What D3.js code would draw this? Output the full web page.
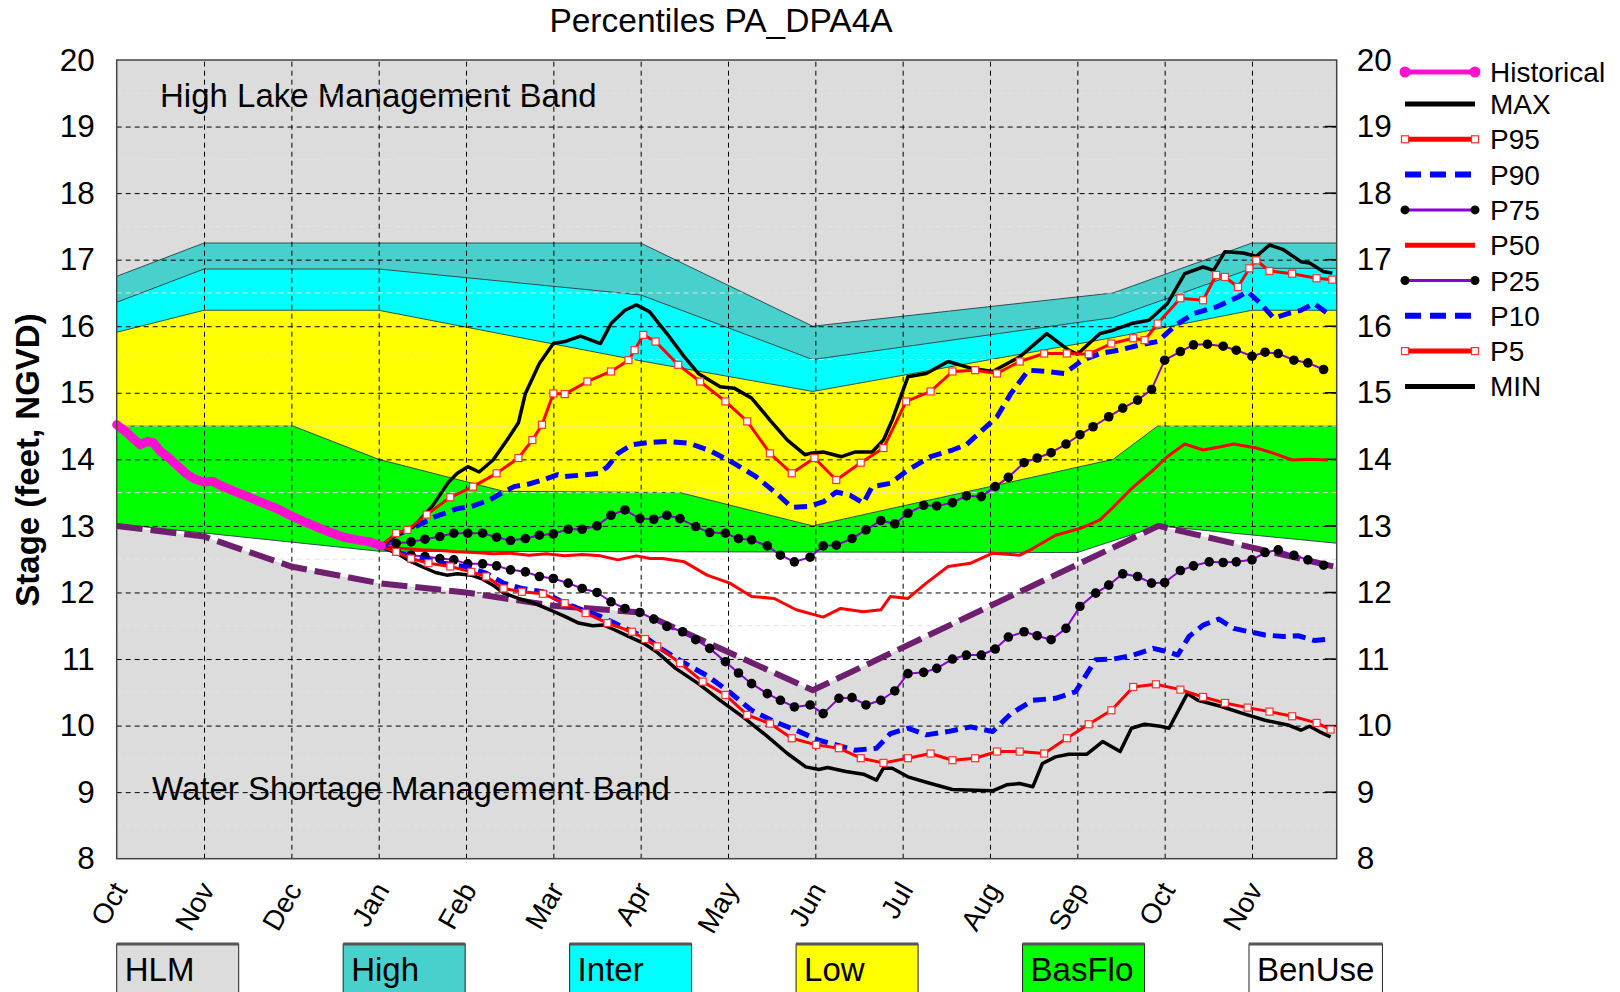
<!DOCTYPE html>
<html>
<head>
<meta charset="utf-8">
<script src="https://cdn.jsdelivr.net/npm/d3@7"></script>
<style>
  body { margin: 0; background: #fff; }
  svg { display: block; font-family: "Liberation Sans", Arial, sans-serif; }
</style>
</head>
<body>
<svg id="chart" width="1620" height="992"></svg>
<script>
// months on the x axis, month index 0 = Oct
var monthNames = ['Oct', 'Nov', 'Dec', 'Jan', 'Feb', 'Mar', 'Apr', 'May', 'Jun', 'Jul', 'Aug', 'Sep', 'Oct', 'Nov'];
var stageTicks = [8, 9, 10, 11, 12, 13, 14, 15, 16, 17, 18, 19, 20];

// management band boundaries [month, stage]
var highTop = [[0, 16.75], [1, 17.25], [6, 17.25], [7.97, 16.0], [11.41, 16.5], [13, 17.25], [13.97, 17.25]];
var interTop = [[0, 16.36], [1, 16.86], [3, 16.86], [6, 16.47], [7.97, 15.5], [11.41, 16.13], [13, 16.87], [13.97, 16.87]];
var lowTop = [[0, 15.91], [1, 16.24], [3, 16.24], [6, 15.48], [7.97, 15.02], [11.41, 15.83], [13, 16.24], [13.97, 16.24]];
var basFloTop = [[0, 14.5], [2.02, 14.5], [3, 14.0], [4.43, 13.52], [6.45, 13.5], [7.97, 13.0], [11.41, 14.0], [11.92, 14.5], [13.97, 14.5]];
var benUseTop = [[0, 13.03], [3, 12.62], [11.0, 12.6], [11.93, 13.0], [13.97, 12.74]];
var shortageTop = [[0, 13.0], [1, 12.84], [2, 12.39], [3, 12.14], [4, 12.0], [5, 11.8], [6, 11.7], [7.97, 10.53], [11.93, 13.0], [13.97, 12.38]];

// historical stage
var historical = [[0, 14.52], [0.1, 14.42], [0.2, 14.3], [0.27, 14.22], [0.35, 14.27], [0.42, 14.25], [0.5, 14.12],
  [0.6, 14.02], [0.7, 13.9], [0.8, 13.78], [0.9, 13.7], [1.0, 13.66], [1.1, 13.67], [1.2, 13.6], [1.35, 13.52],
  [1.5, 13.44], [1.7, 13.33], [1.85, 13.25], [2.0, 13.15], [2.15, 13.06], [2.3, 12.98], [2.45, 12.9], [2.6, 12.83],
  [2.75, 12.79], [2.9, 12.76], [3.03, 12.7]];

// percentile traces
var pMax = [[3.03, 12.69], [3.2, 12.86], [3.4, 12.99], [3.61, 13.29], [3.8, 13.66], [3.9, 13.79], [4.02, 13.89], [4.15, 13.81],
  [4.31, 13.99], [4.47, 14.29], [4.6, 14.55], [4.68, 14.99], [4.84, 15.44], [5.0, 15.74], [5.13, 15.77], [5.31, 15.85],
  [5.54, 15.74], [5.66, 16.04], [5.82, 16.24], [5.95, 16.32], [6.1, 16.22], [6.3, 15.89], [6.5, 15.54], [6.66, 15.29],
  [6.91, 15.09], [7.07, 15.07], [7.27, 14.92], [7.48, 14.59], [7.68, 14.29], [7.88, 14.07], [7.94, 14.09], [8.09, 14.11],
  [8.3, 14.04], [8.45, 14.11], [8.65, 14.11], [8.78, 14.29], [8.88, 14.59], [9.06, 15.24], [9.27, 15.29], [9.52, 15.47],
  [9.78, 15.37], [10.03, 15.32], [10.34, 15.54], [10.65, 15.89], [10.9, 15.64], [11.0, 15.58], [11.26, 15.89],
  [11.41, 15.94], [11.62, 16.04], [11.82, 16.09], [12.03, 16.34], [12.23, 16.79], [12.44, 16.89], [12.56, 16.84],
  [12.69, 17.12], [12.9, 17.1], [13.05, 17.05], [13.2, 17.22], [13.36, 17.15], [13.56, 16.97], [13.66, 16.95],
  [13.82, 16.82], [13.92, 16.8]];
var p95 = [[3.03, 12.69], [3.2, 12.89], [3.33, 12.94], [3.55, 13.17], [3.82, 13.43], [4.08, 13.59], [4.35, 13.79], [4.6, 14.02],
  [4.76, 14.29], [4.87, 14.52], [5.0, 14.99], [5.13, 14.98], [5.39, 15.17], [5.66, 15.32], [5.86, 15.49], [5.93, 15.64],
  [6.03, 15.87], [6.17, 15.77], [6.43, 15.42], [6.68, 15.17], [6.97, 14.87], [7.22, 14.57], [7.48, 14.09], [7.73, 13.79],
  [7.99, 14.02], [8.24, 13.69], [8.52, 13.95], [8.78, 14.17], [9.04, 14.87], [9.32, 15.02], [9.57, 15.32], [9.83, 15.34],
  [10.08, 15.29], [10.34, 15.47], [10.62, 15.59], [10.88, 15.59], [11.13, 15.58], [11.39, 15.74], [11.64, 15.82],
  [11.77, 15.79], [11.92, 16.04], [12.18, 16.42], [12.44, 16.39], [12.59, 16.77], [12.69, 16.74], [12.84, 16.59],
  [12.97, 16.87], [13.05, 16.99], [13.2, 16.83], [13.46, 16.79], [13.74, 16.72], [13.92, 16.7]];
var p90 = [[3.03, 12.69], [3.2, 12.86], [3.41, 12.98], [3.65, 13.14], [3.9, 13.26], [4.06, 13.29], [4.27, 13.39], [4.43, 13.51],
  [4.55, 13.59], [4.72, 13.63], [4.88, 13.69], [5.05, 13.77], [5.13, 13.74], [5.37, 13.77], [5.52, 13.79], [5.62, 13.89],
  [5.74, 14.09], [5.9, 14.22], [6.07, 14.25], [6.3, 14.27], [6.56, 14.24], [6.81, 14.12], [7.07, 13.94], [7.32, 13.74],
  [7.58, 13.46], [7.73, 13.28], [7.91, 13.29], [8.09, 13.36], [8.24, 13.51], [8.4, 13.46], [8.55, 13.34], [8.65, 13.59],
  [8.86, 13.64], [9.06, 13.84], [9.32, 14.04], [9.57, 14.14], [9.73, 14.22], [9.88, 14.4], [10.08, 14.64], [10.24, 14.99],
  [10.44, 15.34], [10.65, 15.32], [10.85, 15.29], [11.06, 15.49], [11.26, 15.59], [11.47, 15.64], [11.72, 15.72],
  [11.92, 15.77], [12.13, 16.02], [12.33, 16.19], [12.59, 16.29], [12.84, 16.44], [12.95, 16.52], [13.1, 16.34],
  [13.25, 16.12], [13.41, 16.19], [13.56, 16.24], [13.71, 16.34], [13.87, 16.19]];
var p75 = [[3.03, 12.69], [3.2, 12.74], [3.37, 12.76], [3.53, 12.8], [3.7, 12.84], [3.86, 12.89], [4.02, 12.89], [4.19, 12.89],
  [4.35, 12.83], [4.51, 12.78], [4.68, 12.81], [4.84, 12.86], [5.0, 12.88], [5.17, 12.95], [5.33, 12.95], [5.5, 13.0],
  [5.66, 13.16], [5.82, 13.24], [5.99, 13.11], [6.15, 13.1], [6.3, 13.16], [6.45, 13.11], [6.63, 12.99], [6.79, 12.9],
  [6.97, 12.89], [7.12, 12.81], [7.27, 12.79], [7.45, 12.7], [7.6, 12.56], [7.76, 12.46], [7.94, 12.53], [8.09, 12.7],
  [8.24, 12.71], [8.42, 12.81], [8.58, 12.94], [8.75, 13.08], [8.91, 13.03], [9.06, 13.19], [9.24, 13.31], [9.39, 13.3],
  [9.57, 13.35], [9.73, 13.45], [9.9, 13.44], [10.06, 13.59], [10.21, 13.73], [10.39, 13.95], [10.54, 14.02], [10.7, 14.1],
  [10.87, 14.23], [11.03, 14.37], [11.18, 14.49], [11.36, 14.64], [11.52, 14.77], [11.69, 14.89], [11.85, 15.05],
  [12.0, 15.49], [12.18, 15.62], [12.33, 15.72], [12.49, 15.73], [12.67, 15.7], [12.82, 15.64], [13.0, 15.55],
  [13.15, 15.61], [13.3, 15.59], [13.48, 15.49], [13.64, 15.45], [13.82, 15.35]];
var p50 = [[3.03, 12.69], [3.2, 12.67], [3.49, 12.64], [3.7, 12.63], [3.9, 12.61], [4.1, 12.6], [4.31, 12.58], [4.51, 12.59],
  [4.72, 12.56], [4.92, 12.58], [5.13, 12.55], [5.33, 12.57], [5.54, 12.55], [5.74, 12.49], [5.95, 12.55], [6.11, 12.51],
  [6.25, 12.51], [6.5, 12.46], [6.76, 12.26], [7.02, 12.14], [7.27, 11.94], [7.53, 11.91], [7.78, 11.74], [8.09, 11.63],
  [8.29, 11.76], [8.55, 11.71], [8.75, 11.74], [8.86, 11.94], [9.06, 11.91], [9.27, 12.14], [9.52, 12.39], [9.78, 12.44],
  [10.03, 12.59], [10.34, 12.56], [10.49, 12.66], [10.75, 12.86], [11.03, 12.96], [11.26, 13.09], [11.41, 13.28],
  [11.62, 13.56], [11.87, 13.84], [12.03, 14.04], [12.23, 14.23], [12.44, 14.14], [12.64, 14.19], [12.79, 14.23],
  [13.05, 14.17], [13.25, 14.09], [13.46, 13.99], [13.66, 14.0], [13.87, 13.99]];
var p25 = [[3.03, 12.69], [3.2, 12.62], [3.37, 12.56], [3.53, 12.54], [3.7, 12.51], [3.86, 12.49], [4.02, 12.43], [4.19, 12.43],
  [4.35, 12.4], [4.51, 12.34], [4.68, 12.31], [4.84, 12.24], [5.0, 12.21], [5.17, 12.14], [5.33, 12.06], [5.5, 12.0],
  [5.66, 11.86], [5.82, 11.76], [5.99, 11.7], [6.15, 11.6], [6.3, 11.49], [6.48, 11.41], [6.63, 11.29], [6.79, 11.16],
  [6.97, 10.96], [7.12, 10.79], [7.27, 10.63], [7.45, 10.48], [7.6, 10.38], [7.76, 10.28], [7.94, 10.31], [8.09, 10.18],
  [8.27, 10.41], [8.42, 10.42], [8.58, 10.31], [8.75, 10.38], [8.91, 10.52], [9.06, 10.78], [9.24, 10.8], [9.39, 10.86],
  [9.57, 11.0], [9.73, 11.06], [9.9, 11.06], [10.06, 11.15], [10.21, 11.33], [10.39, 11.41], [10.54, 11.35], [10.7, 11.29],
  [10.87, 11.46], [11.03, 11.79], [11.21, 11.99], [11.36, 12.11], [11.52, 12.28], [11.69, 12.24], [11.85, 12.14],
  [12.0, 12.15], [12.18, 12.33], [12.33, 12.4], [12.51, 12.46], [12.67, 12.45], [12.82, 12.46], [13.0, 12.49],
  [13.15, 12.6], [13.3, 12.64], [13.48, 12.56], [13.64, 12.49], [13.82, 12.41]];
var p10 = [[3.03, 12.69], [3.24, 12.59], [3.49, 12.51], [3.74, 12.44], [3.98, 12.39], [4.23, 12.29], [4.43, 12.14], [4.64, 12.06],
  [4.88, 12.01], [5.13, 11.84], [5.33, 11.74], [5.54, 11.64], [5.7, 11.54], [5.86, 11.44], [6.07, 11.31], [6.25, 11.14],
  [6.5, 10.94], [6.76, 10.75], [7.02, 10.5], [7.27, 10.23], [7.53, 10.06], [7.78, 9.93], [8.04, 9.78], [8.24, 9.71],
  [8.45, 9.63], [8.7, 9.66], [8.86, 9.88], [9.06, 9.96], [9.27, 9.86], [9.52, 9.91], [9.78, 9.98], [10.03, 9.91],
  [10.24, 10.18], [10.49, 10.38], [10.75, 10.41], [10.98, 10.51], [11.11, 10.78], [11.21, 10.99], [11.41, 11.0],
  [11.62, 11.05], [11.87, 11.16], [12.03, 11.11], [12.15, 11.06], [12.28, 11.34], [12.44, 11.51], [12.62, 11.6],
  [12.79, 11.46], [12.97, 11.41], [13.15, 11.36], [13.36, 11.34], [13.53, 11.35], [13.71, 11.28], [13.89, 11.3]];
var p5 = [[3.03, 12.69], [3.2, 12.61], [3.37, 12.51], [3.57, 12.44], [3.82, 12.39], [4.06, 12.31], [4.23, 12.24], [4.43, 12.06],
  [4.64, 12.01], [4.88, 11.98], [5.13, 11.84], [5.37, 11.69], [5.62, 11.54], [5.9, 11.41], [6.05, 11.3], [6.19, 11.19],
  [6.45, 10.94], [6.71, 10.66], [6.97, 10.46], [7.22, 10.16], [7.48, 10.03], [7.73, 9.81], [8.01, 9.71], [8.27, 9.66],
  [8.52, 9.51], [8.78, 9.44], [9.06, 9.51], [9.32, 9.58], [9.57, 9.48], [9.83, 9.51], [10.08, 9.61], [10.34, 9.61],
  [10.62, 9.58], [10.88, 9.81], [11.13, 10.02], [11.39, 10.23], [11.64, 10.58], [11.9, 10.62], [12.18, 10.54],
  [12.44, 10.43], [12.69, 10.34], [12.95, 10.27], [13.2, 10.21], [13.46, 10.14], [13.74, 10.04], [13.9, 9.94]];
var pMin = [[3.03, 12.69], [3.2, 12.6], [3.33, 12.49], [3.49, 12.39], [3.65, 12.3], [3.78, 12.26], [3.9, 12.28], [4.06, 12.26],
  [4.19, 12.2], [4.31, 12.11], [4.43, 11.99], [4.6, 11.91], [4.76, 11.85], [4.96, 11.74], [5.13, 11.64], [5.29, 11.54],
  [5.45, 11.5], [5.58, 11.51], [5.7, 11.44], [5.86, 11.34], [6.03, 11.24], [6.19, 11.1], [6.4, 10.86], [6.66, 10.63],
  [6.91, 10.38], [7.17, 10.13], [7.43, 9.86], [7.68, 9.58], [7.89, 9.38], [8.04, 9.34], [8.14, 9.37], [8.35, 9.31],
  [8.55, 9.27], [8.7, 9.18], [8.78, 9.36], [8.88, 9.36], [9.06, 9.23], [9.32, 9.13], [9.57, 9.04], [9.83, 9.03],
  [10.03, 9.02], [10.19, 9.11], [10.34, 9.13], [10.49, 9.08], [10.6, 9.43], [10.75, 9.53], [10.9, 9.57], [11.11, 9.57],
  [11.29, 9.76], [11.49, 9.61], [11.62, 9.96], [11.77, 10.02], [11.95, 9.99], [12.05, 9.96], [12.26, 10.48],
  [12.38, 10.38], [12.64, 10.29], [12.9, 10.18], [13.15, 10.08], [13.41, 10.01], [13.56, 9.93], [13.66, 9.99],
  [13.77, 9.91], [13.9, 9.83]];

var legendNames = ['Historical', 'MAX', 'P95', 'P90', 'P75', 'P50', 'P25', 'P10', 'P5', 'MIN'];
var bandNames = ['HLM', 'High', 'Inter', 'Low', 'BasFlo', 'BenUse'];

var plotLeft = 116.7, plotRight = 1336.7, plotTop = 60, plotBottom = 858.7;

var x = d3.scaleLinear().domain([0, 13.97]).range([plotLeft, plotRight]);
var y = d3.scaleLinear().domain([8, 20]).range([plotBottom, plotTop]);

var svg = d3.select('#chart');

var colors = {
  hlm: '#dcdcdc', high: '#48d1cc', inter: '#00ffff', low: '#ffff00', basflo: '#00ff00', benuse: '#ffffff'
};

// title
svg.append('text')
  .attr('x', 721).attr('y', 32)
  .attr('text-anchor', 'middle')
  .style('font-size', '33.5px')
  .text('Percentiles PA_DPA4A');

var plot = svg.append('g');

plot.append('rect')
  .attr('x', plotLeft).attr('y', plotTop)
  .attr('width', plotRight - plotLeft).attr('height', plotBottom - plotTop)
  .attr('fill', colors.hlm);

var area = d3.area()
  .x(function (d) { return x(d[0]); })
  .y0(y(8))
  .y1(function (d) { return y(d[1]); });

var edge = d3.line()
  .x(function (d) { return x(d[0]); })
  .y(function (d) { return y(d[1]); });

var bands = [
  { data: highTop, fill: colors.high },
  { data: interTop, fill: colors.inter },
  { data: lowTop, fill: colors.low },
  { data: basFloTop, fill: colors.basflo },
  { data: benUseTop, fill: colors.benuse },
  { data: shortageTop, fill: colors.hlm }
];

bands.forEach(function (b) {
  plot.append('path').attr('d', area(b.data)).attr('fill', b.fill);
});
bands.slice(0, 5).forEach(function (b) {
  plot.append('path').attr('d', edge(b.data))
    .attr('fill', 'none').attr('stroke', '#2f4f4f').attr('stroke-width', 1);
});

// band captions
plot.append('text').attr('x', 160).attr('y', 107)
  .style('font-size', '33px').text('High Lake Management Band');
plot.append('text').attr('x', 152).attr('y', 800)
  .style('font-size', '33px').text('Water Shortage Management Band');

// minor grid (half feet)
var minor = d3.range(8.5, 20, 1);
plot.selectAll('.minor').data(minor).enter().append('line')
  .attr('x1', plotLeft).attr('x2', plotRight)
  .attr('y1', function (d) { return y(d); }).attr('y2', function (d) { return y(d); })
  .attr('stroke', '#e2e2e2').attr('stroke-width', 1).attr('stroke-dasharray', '5,4');

// major grid
var yGrid = d3.axisLeft(y).tickValues(stageTicks.slice(1, -1)).tickSize(-(plotRight - plotLeft)).tickFormat('');
plot.append('g').attr('transform', 'translate(' + plotLeft + ',0)').call(yGrid)
  .call(function (s) { s.select('.domain').remove(); })
  .selectAll('line').attr('stroke', '#000').attr('stroke-dasharray', '5,4');

var xGrid = d3.axisBottom(x).tickValues(d3.range(1, monthNames.length)).tickSize(-(plotBottom - plotTop)).tickFormat('');
plot.append('g').attr('transform', 'translate(0,' + plotBottom + ')').call(xGrid)
  .call(function (s) { s.select('.domain').remove(); })
  .selectAll('line').attr('stroke', '#000').attr('stroke-dasharray', '5,4');

// small inward ticks on the right edge
plot.selectAll('.rtick').data(stageTicks.slice(1, -1)).enter().append('line')
  .attr('x1', plotRight - 12).attr('x2', plotRight)
  .attr('y1', function (d) { return y(d); }).attr('y2', function (d) { return y(d); })
  .attr('stroke', '#000').attr('stroke-width', 1.5);

// water shortage line
plot.append('path').attr('d', edge(shortageTop))
  .attr('fill', 'none').attr('stroke', '#6e1f6e').attr('stroke-width', 6)
  .attr('stroke-dasharray', '26,8');

var line = d3.line()
  .x(function (d) { return x(d[0]); })
  .y(function (d) { return y(d[1]); });

var series = [
  { data: p50, stroke: '#ff0000', width: 3 },
  { data: p25, stroke: '#8a00d0', width: 2, dots: true },
  { data: p75, stroke: '#8a00d0', width: 2, dots: true },
  { data: p10, stroke: '#0000ff', width: 5, dash: '13,7' },
  { data: p90, stroke: '#0000ff', width: 5, dash: '13,7' },
  { data: pMin, stroke: '#000000', width: 3.5 },
  { data: pMax, stroke: '#000000', width: 3.5 },
  { data: p5, stroke: '#ff0000', width: 3, squares: true },
  { data: p95, stroke: '#ff0000', width: 3, squares: true }
];

series.forEach(function (s) {
  plot.append('path').attr('d', line(s.data))
    .attr('fill', 'none').attr('stroke', s.stroke).attr('stroke-width', s.width)
    .attr('stroke-linejoin', 'round')
    .attr('stroke-dasharray', s.dash || null);
  if (s.dots) {
    plot.append('g').selectAll('circle').data(s.data.slice(1)).enter().append('circle')
      .attr('cx', function (d) { return x(d[0]); })
      .attr('cy', function (d) { return y(d[1]); })
      .attr('r', 4.8).attr('fill', '#000');
  }
  if (s.squares) {
    plot.append('g').selectAll('rect').data(s.data.slice(1)).enter().append('rect')
      .attr('x', function (d) { return x(d[0]) - 3.5; })
      .attr('y', function (d) { return y(d[1]) - 3.5; })
      .attr('width', 7).attr('height', 7)
      .attr('fill', '#fff').attr('stroke', '#ff3030').attr('stroke-width', 1.2);
  }
});

plot.append('path').attr('d', line(historical))
  .attr('fill', 'none').attr('stroke', '#ff10d0').attr('stroke-width', 9)
  .attr('stroke-linejoin', 'round').attr('stroke-linecap', 'round');

// plot border
plot.append('rect')
  .attr('x', plotLeft).attr('y', plotTop)
  .attr('width', plotRight - plotLeft).attr('height', plotBottom - plotTop)
  .attr('fill', 'none').attr('stroke', '#444').attr('stroke-width', 1.5);

// axes labels
var yLeft = d3.axisLeft(y).tickValues(stageTicks).tickSize(0).tickPadding(22);
svg.append('g').attr('transform', 'translate(' + plotLeft + ',0)').call(yLeft)
  .call(function (s) { s.select('.domain').remove(); })
  .selectAll('text').style('font-size', '31.5px').attr('fill', '#000')
  .style('font-family', '"Liberation Sans", Arial, sans-serif');

var yRight = d3.axisRight(y).tickValues(stageTicks).tickSize(0).tickPadding(20);
svg.append('g').attr('transform', 'translate(' + plotRight + ',0)').call(yRight)
  .call(function (s) { s.select('.domain').remove(); })
  .selectAll('text').style('font-size', '31.5px').attr('fill', '#000')
  .style('font-family', '"Liberation Sans", Arial, sans-serif');

var xAxis = d3.axisBottom(x).tickValues(d3.range(0, monthNames.length)).tickSize(0)
  .tickFormat(function (d) { return monthNames[d]; });
svg.append('g').attr('transform', 'translate(0,' + plotBottom + ')').call(xAxis)
  .call(function (s) { s.select('.domain').remove(); })
  .selectAll('text')
  .style('font-size', '28px').style('font-family', '"Liberation Sans", Arial, sans-serif')
  .attr('fill', '#000')
  .attr('text-anchor', 'end')
  .attr('dy', 0).attr('y', 0)
  .attr('transform', 'translate(11,31) rotate(-60)');

svg.append('text')
  .attr('transform', 'translate(39,460) rotate(-90)')
  .attr('text-anchor', 'middle')
  .style('font-size', '33px').style('font-weight', 'bold')
  .text('Stage (feet, NGVD)');

// right legend
var leg = svg.append('g').attr('transform', 'translate(1405,72)');
var legendStyles = {
  'Historical': { stroke: '#ff10d0', width: 5, ends: 'circleM' },
  'MAX': { stroke: '#000', width: 5 },
  'P95': { stroke: '#ff0000', width: 5, ends: 'square' },
  'P90': { stroke: '#0000ff', width: 6, dash: '16,9' },
  'P75': { stroke: '#8a00d0', width: 3, ends: 'dot' },
  'P50': { stroke: '#ff0000', width: 5 },
  'P25': { stroke: '#8a00d0', width: 3, ends: 'dot' },
  'P10': { stroke: '#0000ff', width: 6, dash: '16,9' },
  'P5': { stroke: '#ff0000', width: 5, ends: 'square' },
  'MIN': { stroke: '#000', width: 5 }
};
var row = leg.selectAll('g').data(legendNames).enter().append('g')
  .attr('transform', function (d, i) { return 'translate(0,' + (i === 0 ? 0 : 32 + (i - 1) * 35.3) + ')'; });
row.append('line').attr('x1', 0).attr('x2', 70).attr('y1', 0).attr('y2', 0)
  .attr('stroke', function (d) { return legendStyles[d].stroke; })
  .attr('stroke-width', function (d) { return legendStyles[d].width; })
  .attr('stroke-dasharray', function (d) { return legendStyles[d].dash || null; });
row.each(function (d) {
  var st = legendStyles[d], r = d3.select(this);
  [0, 70].forEach(function (px) {
    if (st.ends === 'circleM') r.append('circle').attr('cx', px).attr('cy', 0).attr('r', 5.5).attr('fill', st.stroke);
    if (st.ends === 'dot') r.append('circle').attr('cx', px).attr('cy', 0).attr('r', 4.5).attr('fill', '#000');
    if (st.ends === 'square') r.append('rect').attr('x', px - 3.5).attr('y', -3.5).attr('width', 7).attr('height', 7)
      .attr('fill', '#fff').attr('stroke', '#ff3030').attr('stroke-width', 1.2);
  });
});
row.append('text').attr('x', 85).attr('y', 10)
  .style('font-size', '28px').text(function (d) { return d; });

// band legend boxes along the bottom
var bandColors = [colors.hlm, colors.high, colors.inter, colors.low, colors.basflo, colors.benuse];
var boxX = d3.scalePoint().domain(bandNames).range([116.7, 1249]);
var box = svg.selectAll('.bandbox').data(bandNames).enter().append('g')
  .attr('transform', function (d) { return 'translate(' + boxX(d) + ',944)'; });
box.append('rect')
  .attr('width', 122).attr('height', 70)
  .attr('fill', function (d, i) { return bandColors[i]; })
  .attr('stroke', '#222').attr('stroke-width', 1);
box.append('text').attr('x', 8).attr('y', 37)
  .style('font-size', '33px').text(function (d) { return d; });
box.each(function () {
  var gb = d3.select(this);
  var w = Math.max(122, gb.select('text').node().getBBox().width + 16);
  gb.select('rect').attr('width', w);
  gb.append('line').attr('x1', 0).attr('x2', w).attr('y1', 0).attr('y2', 0)
    .attr('stroke', '#555').attr('stroke-width', 3);
});
</script>
</body>
</html>
